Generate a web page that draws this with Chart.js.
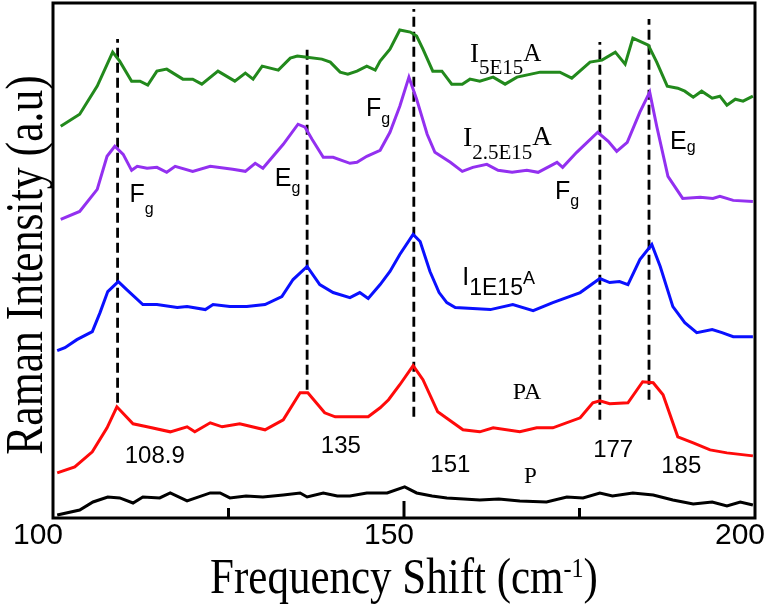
<!DOCTYPE html>
<html>
<head>
<meta charset="utf-8">
<title>Raman spectra</title>
<script src="https://cdn.jsdelivr.net/npm/chart.js@4.4.1/dist/chart.umd.min.js"></script>
<style>
  html, body { margin: 0; padding: 0; background: #fff; }
  #wrap { width: 765px; height: 609px; position: relative; }
</style>
</head>
<body>
<div id="wrap"><canvas id="raman"></canvas></div>
<script>
// Raman shift (cm-1) vs intensity (a.u., curves stacked with offsets)
const greenX = [101.1, 103.8, 106.3, 108.5, 109.5, 111.2, 112.4, 113.5, 114.8, 116.2, 118.5, 119.9, 121.2, 123.5, 125.9, 127.4, 128.5, 129.8, 132.1, 133.8, 134.8, 135.9, 138.3, 139.5, 140.9, 142.0, 143.3, 144.7, 145.9, 146.6, 148.0, 149.4, 150.9, 151.8, 152.7, 154.1, 155.4, 156.8, 158.3, 159.4, 160.8, 162.7, 164.4, 166.1, 169.4, 172.2, 173.9, 176.5, 178.2, 180.1, 181.5, 182.6, 184.8, 186.0, 187.5, 189.0, 190.0, 191.2, 192.4, 193.9, 195.0, 196.0, 197.2, 198.3, 199.7];
const greenY = [391, 403, 431, 465, 456, 436, 436, 432, 446, 448, 438, 438, 433, 446, 436, 444, 438, 451, 447, 459, 461, 460, 458, 455, 445, 443, 446, 451, 447, 456, 468, 487, 485, 481, 468, 446, 446, 433, 433, 438, 436, 440, 433, 440, 445, 445, 439, 455, 457, 465, 453, 479, 472, 455, 431, 429, 426, 420, 426, 419, 421, 412, 418, 416, 421];

const purpleX = [101.1, 103.8, 106.3, 107.7, 108.8, 110.0, 111.2, 112.0, 113.4, 114.8, 116.2, 117.4, 119.9, 122.4, 125.6, 127.4, 128.8, 129.9, 132.8, 134.9, 135.9, 136.9, 138.5, 139.9, 142.3, 143.3, 144.7, 146.6, 148.0, 149.4, 150.7, 151.8, 153.3, 154.4, 156.6, 158.3, 159.8, 161.8, 163.4, 165.4, 167.5, 169.1, 171.8, 172.6, 174.6, 177.6, 179.1, 180.3, 181.8, 183.6, 185.0, 186.0, 187.6, 189.7, 192.2, 194.0, 195.0, 196.9, 199.7];
const purpleY = [298, 306, 328, 361, 371, 363, 347, 351, 349, 350, 345, 351, 346, 351, 348, 346, 354, 349, 373, 393, 390, 378, 360, 360, 354, 355, 361, 367, 385, 411, 440, 418, 383, 365, 355, 346, 350, 353, 347, 345, 347, 345, 355, 350, 365, 385, 376, 366, 375, 405, 425, 391, 341, 319, 320, 319, 321, 317, 316];

const blueX = [100.6, 101.7, 103.4, 105.6, 106.7, 107.8, 109.3, 110.5, 112.8, 114.8, 117.7, 119.1, 121.7, 122.8, 125.2, 127.6, 130.2, 132.6, 134.2, 136.2, 138.0, 139.9, 142.3, 143.7, 144.9, 146.6, 148.0, 149.4, 151.3, 152.3, 153.7, 155.0, 156.1, 157.3, 162.3, 165.5, 168.4, 171.2, 175.1, 177.9, 179.3, 180.7, 181.9, 183.6, 185.3, 186.5, 188.3, 190.0, 191.7, 193.9, 195.3, 196.9, 199.7];
const blueY = [167, 170, 178, 186, 205, 226, 236, 228, 213, 213, 210, 211, 208, 213, 211, 211, 213, 221, 238, 251, 233, 225, 220, 225, 219, 233, 246, 263, 283, 276, 246, 225, 215, 210, 208, 213, 207, 215, 225, 239, 235, 236, 233, 258, 273, 251, 211, 195, 185, 188, 185, 181, 181];

const redX = [100.6, 103.1, 105.6, 107.7, 109.1, 111.4, 113.4, 116.7, 119.1, 120.2, 122.4, 124.1, 126.6, 130.2, 132.8, 135.2, 136.3, 138.7, 140.2, 144.9, 146.6, 147.8, 149.4, 151.3, 152.7, 154.8, 158.4, 160.8, 162.7, 166.5, 168.9, 171.2, 175.1, 176.9, 177.9, 179.3, 181.9, 184.0, 185.5, 186.9, 189.0, 191.2, 193.6, 196.0, 199.7];
const redY = [45, 51, 66, 90, 111, 94, 91, 86, 91, 86, 95, 91, 94, 88, 98, 125, 125, 105, 101, 101, 110, 118, 133, 152, 138, 106, 88, 86, 90, 86, 90, 90, 100, 115, 117, 114, 115, 136, 135, 123, 81, 75, 68, 65, 62];

const blackX = [100.6, 103.8, 105.7, 107.8, 109.5, 111.4, 112.8, 115.2, 116.7, 119.1, 122.4, 123.8, 125.2, 127.5, 129.9, 132.8, 135.2, 136.2, 138.5, 140.5, 142.3, 144.7, 147.6, 150.1, 151.8, 154.0, 156.1, 158.5, 160.8, 163.5, 166.5, 170.3, 173.2, 175.5, 177.9, 179.7, 182.6, 185.5, 188.3, 191.2, 193.9, 196.0, 197.9, 199.7];
const blackY = [3, 8, 16, 21, 20, 15, 21, 20, 25, 17, 25, 25, 20, 22, 21, 23, 25, 21, 25, 22, 22, 25, 25, 31, 25, 22, 20, 19, 18, 19, 17, 16, 21, 20, 25, 22, 25, 23, 18, 14, 16, 12, 16, 13];

// dashed peak markers
const peakX = [109.2, 136.2, 151.4, 177.9, 184.9];
const peakTop = [478, 469, 508, 475, 498];
const peakBottom = [115, 128, 101, 98, 118];
const peakLabels = ['108.9', '135', '151', '177', '185'];
const peakLabelX = [114.5, 141.0, 156.6, 179.8, 189.5];
const peakLabelY = [55, 65, 46, 61, 45];

// sample names and mode labels (main text + subscript)
const sampleMain = ['I', 'I', 'I', 'PA', 'P'];
const sampleSub = ['5E15', '2.5E15', '1E15', '', ''];
const sampleTail = ['A', 'A', 'A', '', ''];
const sampleX = [159.4, 158.4, 158.3, 165.5, 167.1];
const sampleY = [455, 371, 233, 119, 35];

const modeMain = ['F', 'E', 'F', 'F', 'E'];
const modeX = [110.9, 131.6, 144.6, 171.5, 187.9];
const modeY = [315, 331, 401, 318, 368];

const xTicks = [100, 125, 150, 175, 200];

const SERIF = 'Liberation Serif';
const SANS = 'Liberation Sans';

function pts(xs, ys) {
  return xs.map((x, i) => ({ x: x, y: ys[i] }));
}

function curve(xs, ys, color) {
  return {
    data: pts(xs, ys),
    borderColor: color,
    borderWidth: 3,
    pointRadius: 0,
    tension: 0,
    fill: false
  };
}

const datasets = [
  curve(greenX, greenY, '#22891c'),
  curve(purpleX, purpleY, '#9330f0'),
  curve(blueX, blueY, '#0a10ff'),
  curve(redX, redY, '#ff0a0a'),
  curve(blackX, blackY, '#000000')
];

peakX.forEach((x, i) => {
  datasets.push({
    data: [{ x: x, y: peakBottom[i] }, { x: x, y: peakTop[i] }],
    borderColor: '#000',
    borderWidth: 2.8,
    borderDash: [10, 5],
    pointRadius: 0,
    fill: false
  });
});

// draw a run of text pieces, each with its own font and baseline shift
function drawParts(ctx, x, y, parts) {
  parts.forEach(p => {
    if (!p.t) return;
    ctx.font = p.font;
    ctx.fillText(p.t, x, y + (p.dy || 0));
    x += ctx.measureText(p.t).width;
  });
  return x;
}

function partsWidth(ctx, parts) {
  let w = 0;
  parts.forEach(p => {
    ctx.font = p.font;
    w += ctx.measureText(p.t).width;
  });
  return w;
}

const frameAndText = {
  id: 'frameAndText',
  afterDraw(chart) {
    const ctx = chart.ctx;
    const area = chart.chartArea;
    const xs = chart.scales.x;
    const ys = chart.scales.y;

    ctx.save();
    ctx.strokeStyle = '#000';
    ctx.fillStyle = '#000';

    // box
    ctx.lineWidth = 3;
    ctx.strokeRect(area.left, area.top, area.right - area.left, area.bottom - area.top);

    // inward ticks on the bottom axis
    xTicks.forEach(v => {
      if (v === 100 || v === 200) return;
      const px = xs.getPixelForValue(v);
      const len = v % 50 === 0 ? 17 : 10;
      ctx.beginPath();
      ctx.moveTo(px, area.bottom);
      ctx.lineTo(px, area.bottom - len);
      ctx.stroke();
    });

    // peak positions
    ctx.textAlign = 'center';
    ctx.textBaseline = 'alphabetic';
    ctx.font = '24px "' + SANS + '"';
    peakLabels.forEach((t, i) => {
      ctx.fillText(t, xs.getPixelForValue(peakLabelX[i]), ys.getPixelForValue(peakLabelY[i]));
    });

    // sample names
    ctx.textAlign = 'left';
    const sampleFonts = [
      { main: '27px "' + SERIF + '"', sub: '21px "' + SERIF + '"', tail: '25px "' + SERIF + '"', dy: 12 },
      { main: '28px "' + SERIF + '"', sub: '21px "' + SERIF + '"', tail: '27px "' + SERIF + '"', dy: 13 },
      { main: '25px "' + SANS + '"', sub: '23px "' + SANS + '"', tail: '18px "' + SANS + '"', dy: 10 },
      { main: '24px "' + SERIF + '"' },
      { main: '23px "' + SERIF + '"' }
    ];
    sampleMain.forEach((m, i) => {
      const f = sampleFonts[i];
      drawParts(ctx, xs.getPixelForValue(sampleX[i]), ys.getPixelForValue(sampleY[i]), [
        { t: m, font: f.main },
        { t: sampleSub[i], font: f.sub, dy: f.dy },
        { t: sampleTail[i], font: f.tail, dy: -1 }
      ]);
    });

    // mode symmetry labels F_g / E_g
    const modeDy = [12, 7, 8, 7, 3];
    modeMain.forEach((m, i) => {
      drawParts(ctx, xs.getPixelForValue(modeX[i]), ys.getPixelForValue(modeY[i]), [
        { t: m, font: '25px "' + SANS + '"' },
        { t: 'g', font: '16px "' + SANS + '"', dy: modeDy[i] }
      ]);
    });

    // x title with superscript
    const xParts = [
      { t: 'Frequency Shift (cm', font: '50px "' + SERIF + '"' },
      { t: '-1', font: '28px "' + SERIF + '"', dy: -16 },
      { t: ')', font: '50px "' + SERIF + '"' }
    ];
    const squeeze = 0.86;
    const xw = partsWidth(ctx, xParts);
    ctx.save();
    ctx.translate((area.left + area.right) / 2 - xw * squeeze / 2, 593);
    ctx.scale(squeeze, 1);
    drawParts(ctx, 0, 0, xParts);
    ctx.restore();

    // y title
    ctx.save();
    ctx.translate(42, 265);
    ctx.rotate(-Math.PI / 2);
    ctx.scale(0.84, 1);
    ctx.textAlign = 'center';
    ctx.font = '52px "' + SERIF + '"';
    ctx.fillText('Raman Intensity (a.u)', 0, 0);
    ctx.restore();

    ctx.restore();
  }
};

new Chart(document.getElementById('raman'), {
  type: 'line',
  data: { datasets: datasets },
  options: {
    responsive: true,
    maintainAspectRatio: false,
    animation: false,
    devicePixelRatio: 1,
    layout: { padding: { left: 53, top: 3, right: 10, bottom: 11 } },
    plugins: {
      legend: { display: false },
      tooltip: { enabled: false }
    },
    scales: {
      x: {
        type: 'linear',
        min: 100,
        max: 200,
        border: { display: false },
        grid: {
          display: true,
          drawOnChartArea: false,
          drawTicks: true,
          tickLength: 26,
          tickColor: 'rgba(0,0,0,0)'
        },
        // blank title only reserves room below the tick labels; the real title is drawn by the plugin
        title: {
          display: true,
          text: ' ',
          font: { size: 10 },
          padding: { top: 0, bottom: 58 }
        },
        afterBuildTicks: axis => {
          axis.ticks = xTicks.map(v => ({ value: v }));
        },
        ticks: {
          autoSkip: false,
          maxRotation: 0,
          padding: -26,
          labelOffset: -15,
          color: '#000',
          font: { family: SANS, size: 30 },
          callback: v => (v % 50 === 0 ? String(v) : '')
        }
      },
      y: {
        display: false,
        min: 0,
        max: 514
      }
    }
  },
  plugins: [frameAndText]
});
</script>
</body>
</html>
